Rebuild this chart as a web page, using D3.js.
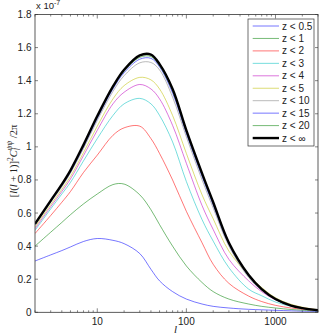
<!DOCTYPE html>
<html>
<head>
<meta charset="utf-8">
<script src="https://cdn.jsdelivr.net/npm/d3@7"></script>
<style>
body { margin: 0; background: #fff; }
svg { display: block; }
text { font-family: "Liberation Sans", Arial, sans-serif; fill: #222; }
.tex { font-family: "Liberation Serif", "DejaVu Serif", serif; }
</style>
</head>
<body>
<script>
// multipole values (x axis)
const ell = [2, 3, 4, 5, 7, 10, 15, 20, 30, 40, 50, 70, 100, 150, 200, 300, 500, 700, 1000, 1500, 2000, 3000];

// [l(l+1)]^2 C_l / 2pi, in units of 1e-7
const zlt05 = [0.31, 0.347, 0.373, 0.395, 0.428, 0.446, 0.435, 0.415, 0.355, 0.26, 0.19, 0.125, 0.08, 0.05, 0.036, 0.026, 0.018, 0.015, 0.012, 0.009, 0.007, 0.005];
const zlt1 = [0.40, 0.484, 0.543, 0.59, 0.655, 0.715, 0.772, 0.775, 0.71, 0.62, 0.53, 0.40, 0.28, 0.18, 0.125, 0.08, 0.05, 0.036, 0.026, 0.017, 0.013, 0.008];
const zlt2 = [0.476, 0.585, 0.665, 0.73, 0.845, 0.95, 1.07, 1.115, 1.125, 1.05, 0.96, 0.80, 0.61, 0.42, 0.29, 0.175, 0.098, 0.065, 0.042, 0.026, 0.019, 0.011];
const zlt3 = [0.495, 0.625, 0.715, 0.785, 0.915, 1.05, 1.19, 1.26, 1.293, 1.26, 1.19, 1.03, 0.79, 0.56, 0.43, 0.27, 0.14, 0.10, 0.062, 0.036, 0.024, 0.012];
const zlt4 = [0.505, 0.638, 0.73, 0.806, 0.947, 1.10, 1.26, 1.33, 1.377, 1.35, 1.29, 1.13, 0.90, 0.645, 0.50, 0.32, 0.19, 0.125, 0.075, 0.042, 0.028, 0.014];
const zlt5 = [0.515, 0.65, 0.743, 0.821, 0.965, 1.125, 1.29, 1.37, 1.42, 1.405, 1.35, 1.19, 0.96, 0.71, 0.565, 0.37, 0.225, 0.15, 0.088, 0.048, 0.031, 0.015];
const zlt10 = [0.525, 0.663, 0.758, 0.841, 0.99, 1.16, 1.335, 1.43, 1.508, 1.51, 1.465, 1.30, 1.06, 0.80, 0.63, 0.40, 0.21, 0.132, 0.076, 0.039, 0.024, 0.012];
const zlt15 = [0.53, 0.669, 0.766, 0.849, 1.0, 1.172, 1.35, 1.448, 1.53, 1.535, 1.483, 1.325, 1.08, 0.82, 0.648, 0.41, 0.218, 0.136, 0.078, 0.04, 0.025, 0.012];
const zlt20 = [0.533, 0.672, 0.77, 0.854, 1.007, 1.18, 1.358, 1.457, 1.541, 1.546, 1.49, 1.338, 1.09, 0.83, 0.657, 0.415, 0.222, 0.138, 0.079, 0.04, 0.025, 0.012];
const zltInf = [0.535, 0.675, 0.773, 0.858, 1.012, 1.186, 1.365, 1.466, 1.553, 1.558, 1.50, 1.35, 1.10, 0.84, 0.665, 0.42, 0.225, 0.14, 0.08, 0.04, 0.025, 0.012];

const labels = ["z < 0.5", "z < 1", "z < 2", "z < 3", "z < 4", "z < 5", "z < 10", "z < 15", "z < 20", "z < \u221e"];
const colors = ["#0000ff", "#008000", "#ff0000", "#00bfbf", "#bf00bf", "#bfbf00", "#7f7f7f", "#0000ff", "#008000", "#000000"];
const yTicks = [0, 0.2, 0.4, 0.6, 0.8, 1, 1.2, 1.4, 1.6, 1.8];
const xTicks = [10, 100, 1000];

const series = [zlt05, zlt1, zlt2, zlt3, zlt4, zlt5, zlt10, zlt15, zlt20, zltInf];

const W = 319, H = 336;
const mLeft = 35, mRight = 318, mTop = 14.5, mBottom = 312.3;

const svg = d3.select("body").append("svg").attr("width", W).attr("height", H);

const x = d3.scaleLog().domain([2, 3000]).range([mLeft, mRight]);
const y = d3.scaleLinear().domain([0, 1.8]).range([mBottom, mTop]);

svg.append("defs").append("clipPath").attr("id", "plot")
    .append("rect").attr("x", mLeft).attr("y", mTop).attr("width", mRight - mLeft).attr("height", mBottom - mTop);

// minor ticks 2..9 per decade
const minor = [];
[1, 10, 100, 1000].forEach(d => { for (let k = 2; k <= 9; k++) { const v = d * k; if (v >= 2 && v <= 3000) minor.push(v); } });

const axisG = svg.append("g").attr("stroke", "#333").attr("stroke-width", 0.6);
// x ticks, bottom and top, pointing in
minor.forEach(v => {
    axisG.append("line").attr("x1", x(v)).attr("x2", x(v)).attr("y1", mBottom).attr("y2", mBottom - 2);
    axisG.append("line").attr("x1", x(v)).attr("x2", x(v)).attr("y1", mTop).attr("y2", mTop + 2);
});
xTicks.forEach(v => {
    axisG.append("line").attr("x1", x(v)).attr("x2", x(v)).attr("y1", mBottom).attr("y2", mBottom - 4);
    axisG.append("line").attr("x1", x(v)).attr("x2", x(v)).attr("y1", mTop).attr("y2", mTop + 4);
});
yTicks.forEach(v => {
    axisG.append("line").attr("x1", mLeft).attr("x2", mLeft + 3).attr("y1", y(v)).attr("y2", y(v));
    axisG.append("line").attr("x1", mRight).attr("x2", mRight - 3).attr("y1", y(v)).attr("y2", y(v));
});

// curves
const line = d3.line()
    .x((d, i) => x(ell[i]))
    .y(d => y(d))
    .curve(d3.curveCatmullRom.alpha(0.5));

const curves = svg.append("g").attr("clip-path", "url(#plot)");
series.forEach((s, i) => {
    curves.append("path")
        .attr("d", line(s))
        .attr("fill", "none")
        .attr("stroke", colors[i])
        .attr("stroke-opacity", i === 9 ? 1 : 0.6)
        .attr("stroke-width", i === 9 ? 2.4 : 0.9);
});

// frame
svg.append("rect").attr("x", mLeft).attr("y", mTop).attr("width", mRight - mLeft).attr("height", mBottom - mTop)
    .attr("fill", "none").attr("stroke", "#333").attr("stroke-width", 0.8);

// tick labels
svg.selectAll(".ylab").data(yTicks).enter().append("text")
    .attr("x", 31.5).attr("y", d => y(d) + 3.5)
    .attr("text-anchor", "end").attr("font-size", 10)
    .text(d => d);
svg.selectAll(".xlab").data(xTicks).enter().append("text")
    .attr("x", d => x(d)).attr("y", 324.5)
    .attr("text-anchor", "middle").attr("font-size", 10)
    .text(d => d);

// exponent
const ex = svg.append("text").attr("x", 36).attr("y", 8.5).attr("font-size", 9.5);
ex.append("tspan").text("x 10");
ex.append("tspan").attr("dy", -4).attr("font-size", 7).text("-7");

// axis titles
svg.append("text").attr("class", "tex").attr("x", 174).attr("y", 333)
    .attr("font-size", 11).attr("font-style", "italic").text("l");

const yl = svg.append("text").attr("class", "tex")
    .attr("transform", "translate(17,161) rotate(-90)")
    .attr("text-anchor", "middle").attr("font-size", 10.5);
yl.append("tspan").text("[");
yl.append("tspan").attr("font-style", "italic").text("l");
yl.append("tspan").text("(");
yl.append("tspan").attr("font-style", "italic").text("l");
yl.append("tspan").text(" + 1)]");
yl.append("tspan").attr("dy", -4).attr("font-size", 7.5).text("2");
yl.append("tspan").attr("dy", 4).attr("font-style", "italic").text("C");
yl.append("tspan").attr("dy", 3).attr("font-size", 7.5).attr("font-style", "italic").text("l");
yl.append("tspan").attr("dy", -8).attr("dx", -2).attr("font-size", 7.5).attr("font-style", "italic").text("\u03c8\u03c8");
yl.append("tspan").attr("dy", 5).text(" /2\u03c0");

// legend
const lg = svg.append("g");
lg.append("rect").attr("x", 248).attr("y", 19).attr("width", 66).attr("height", 127)
    .attr("fill", "#fff").attr("stroke", "#333").attr("stroke-width", 0.7);
labels.forEach((t, i) => {
    const cy = 26 + i * 12.45;
    lg.append("line").attr("x1", 252.7).attr("x2", 279).attr("y1", cy).attr("y2", cy)
        .attr("stroke", colors[i])
        .attr("stroke-opacity", i === 9 ? 1 : 0.6)
        .attr("stroke-width", i === 9 ? 2.4 : 0.9);
    lg.append("text").attr("x", 282).attr("y", cy + 3.5).attr("font-size", 10).text(t);
});
</script>
</body>
</html>
